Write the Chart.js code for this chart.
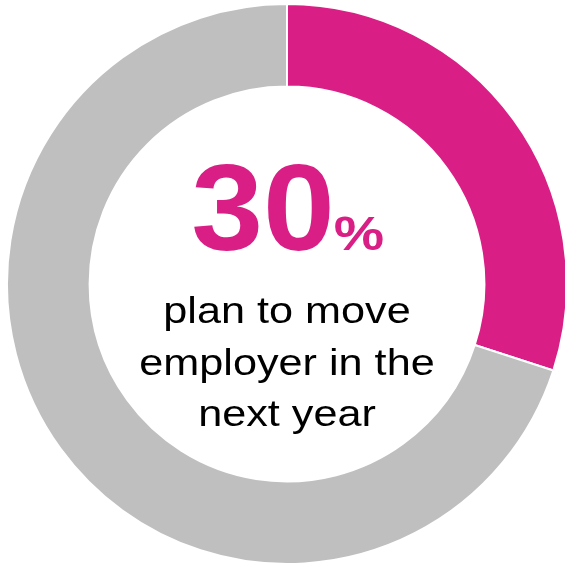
<!DOCTYPE html>
<html>
<head>
<meta charset="utf-8">
<title>Plan to move employer</title>
<script src="https://cdn.jsdelivr.net/npm/chart.js@4"></script>
<style>
  html, body { margin: 0; padding: 0; background: #fff; overflow: hidden; width: 565px; height: 564px; }
  #wrap { position: absolute; left: 6px; top: 3px; }
</style>
</head>
<body>
<div id="wrap"><canvas id="moveChart" width="562" height="562"></canvas></div>
<script>
const labels = ['Plan to move employer', 'Other'];
const values = [30, 70];
const colors = ['#D91F86', '#BFBFBF'];
const captionLines = ['plan to move', 'employer in the', 'next year'];

const FONT = "'Liberation Sans', Arial, Helvetica, sans-serif";

// draws the big percentage and caption in the hole of the ring
const centerText = {
  id: 'centerText',
  afterDraw(chart) {
    const arc = chart.getDatasetMeta(0).data[0];
    const cx = arc.x, cy = arc.y;
    const ctx = chart.ctx;
    const pct = Math.round(values[0] / values.reduce((a, b) => a + b, 0) * 100);

    const stretched = (text, x, y, font, color, sx) => {
      ctx.save();
      ctx.font = font;
      ctx.fillStyle = color;
      ctx.textAlign = 'center';
      ctx.textBaseline = 'alphabetic';
      ctx.translate(x, y);
      ctx.scale(sx, 1);
      ctx.fillText(text, 0, 0);
      ctx.restore();
    };

    stretched(String(pct), cx - 24, cy - 34, 'bold 123px ' + FONT, colors[0], 1.05);
    stretched('%', cx + 72, cy - 34, 'bold 48px ' + FONT, colors[0], 1.18);

    captionLines.forEach((line, i) => {
      stretched(line, cx, cy + 39 + i * 51.5, '36px ' + FONT, '#000', 1.2);
    });
  }
};

new Chart(document.getElementById('moveChart'), {
  type: 'doughnut',
  data: {
    labels: labels,
    datasets: [{
      data: values,
      backgroundColor: colors,
      borderColor: '#fff',
      borderWidth: 2
    }]
  },
  options: {
    responsive: false,
    animation: false,
    cutout: '70.5%',
    layout: { padding: 0 },
    plugins: {
      legend: { display: false },
      tooltip: { enabled: false }
    }
  },
  plugins: [centerText]
});
</script>
</body>
</html>
